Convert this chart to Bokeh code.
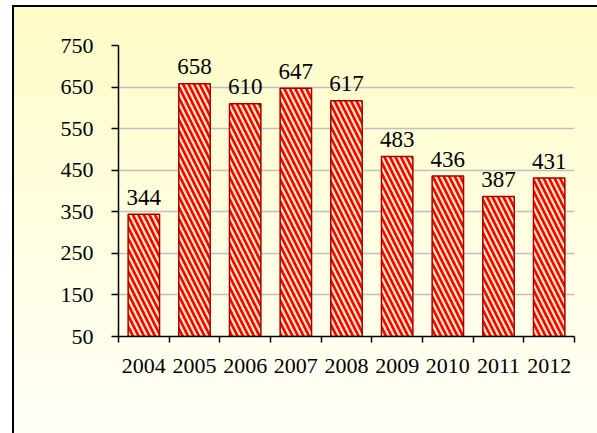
from bokeh.plotting import figure
from bokeh.models import Range1d, FixedTicker, ColumnDataSource
from bokeh.core.properties import value
from bokeh.embed import file_html
from bokeh.resources import INLINE

years = ["2004", "2005", "2006", "2007", "2008", "2009", "2010", "2011", "2012"]
values = [344, 658, 610, 647, 617, 483, 436, 387, 431]
y_ticks = [50, 150, 250, 350, 450, 550, 650, 750]

xs = [i + 0.5 for i in range(len(years))]
bounds = list(range(len(years) + 1))

src = ColumnDataSource(dict(x=xs, v=values, label=[str(v) for v in values]))

FONT = "Liberation Serif"

p = figure(width=597, height=433, output_backend="svg", toolbar_location=None,
           x_range=Range1d(0, len(years)), y_range=Range1d(50, 750),
           min_border_left=118, min_border_right=23, min_border_top=45,
           min_border_bottom=97)

p.background_fill_alpha = 0
p.border_fill_alpha = 0
p.outline_line_color = None
p.styles = {
    "background": (
        "linear-gradient(#000,#000) 12px 5px / 2px 100% no-repeat, "
        "linear-gradient(#000,#000) 12px 5px / 100% 2px no-repeat, "
        "linear-gradient(to bottom, #FFFCC6, #FFFFF8) 12px 5px / 100% 100% no-repeat"
    )
}

p.vbar(x="x", top="v", bottom=50, width=0.62, source=src,
       fill_color="#FFF0C4", line_color="#A00000", line_width=1.5,
       hatch_pattern="\\", hatch_color="#FF0000", hatch_scale=11, hatch_weight=2.7)

p.text(x="x", y="v", text="label", source=src, text_align="center",
       text_baseline="alphabetic", y_offset=-17,
       text_font=value(FONT), text_font_size="23px", text_color="black")

# y axis
p.yaxis.ticker = FixedTicker(ticks=y_ticks)
p.yaxis.axis_line_color = "black"
p.yaxis.axis_line_width = 1.5
p.yaxis.major_tick_line_color = "black"
p.yaxis.major_tick_line_width = 1.5
p.yaxis.major_tick_out = 7
p.yaxis.major_tick_in = 0
p.yaxis.minor_tick_line_color = None
p.yaxis.major_label_standoff = 18
p.yaxis.major_label_text_font = FONT
p.yaxis.major_label_text_font_size = "22px"
p.yaxis.major_label_text_color = "black"

# x axis
p.xaxis.ticker = FixedTicker(ticks=xs, minor_ticks=bounds)
p.xaxis.major_label_overrides = {x: y for x, y in zip(xs, years)}
p.xaxis.axis_line_color = "black"
p.xaxis.axis_line_width = 1.5
p.xaxis.major_tick_line_color = None
p.xaxis.major_tick_out = 0
p.xaxis.major_tick_in = 0
p.xaxis.minor_tick_line_color = "black"
p.xaxis.minor_tick_line_width = 1.5
p.xaxis.minor_tick_out = 6
p.xaxis.minor_tick_in = 0
p.xaxis.major_label_standoff = 16
p.xaxis.major_label_text_font = FONT
p.xaxis.major_label_text_font_size = "22px"
p.xaxis.major_label_text_color = "black"

p.xgrid.visible = False
p.ygrid.grid_line_color = "#BFBFBF"
p.ygrid.grid_line_width = 1.5

open("out.html", "w").write(file_html(p, INLINE))
